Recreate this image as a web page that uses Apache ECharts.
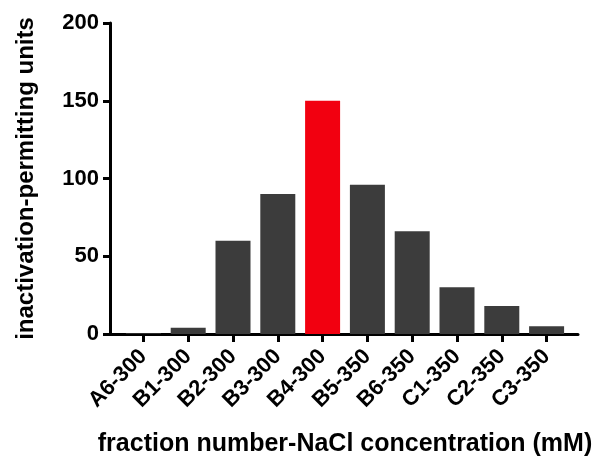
<!DOCTYPE html>
<html>
<head>
<meta charset="utf-8">
<script src="https://cdn.jsdelivr.net/npm/echarts@6/dist/echarts.min.js"></script>
<style>
  html, body { margin: 0; padding: 0; background: #fff; }
  #chart { width: 596px; height: 464px; }
</style>
</head>
<body>
<div id="chart"></div>
<script>
// fractions and their activity
var fractions = ['A6-300', 'B1-300', 'B2-300', 'B3-300', 'B4-300', 'B5-350', 'B6-350', 'C1-350', 'C2-350', 'C3-350'];
var units = [0.5, 4, 60, 90, 150, 96, 66, 30, 18, 5];
var highlight = 'B4-300';
var yTicks = [0, 50, 100, 150, 200];

var font = 'Liberation Sans, Arial, sans-serif';
var chart = echarts.init(document.getElementById('chart'));

var option = {
    animation: false,
    grid: [
        // frame grid: carries the axis lines and y ticks
        { left: 110, right: 18, top: 23, bottom: 130, outerBoundsMode: 'none' },
        // bar grid: slightly inset like the original
        { left: 121, right: 27, top: 23, bottom: 130, outerBoundsMode: 'none' }
    ],
    xAxis: [
        {
            gridIndex: 0,
            type: 'value',
            min: 0,
            max: 1,
            axisLine: { show: true, lineStyle: { color: '#000', width: 3 } },
            axisTick: { show: false },
            axisLabel: { show: false },
            splitLine: { show: false }
        },
        {
            gridIndex: 1,
            type: 'category',
            data: fractions,
            axisLine: { show: false },
            axisTick: { show: true, alignWithLabel: true, length: 8, lineStyle: { color: '#000', width: 3 } },
            axisLabel: {
                rotate: 45,
                interval: 0,
                margin: 19,
                color: '#000',
                fontFamily: font,
                fontWeight: 'bold',
                fontSize: 22
            },
            name: 'fraction number-NaCl concentration (mM)',
            nameLocation: 'middle',
            nameGap: 98,
            nameTextStyle: { color: '#000', fontFamily: font, fontWeight: 'bold', fontSize: 25 }
        }
    ],
    yAxis: [
        {
            gridIndex: 0,
            type: 'value',
            min: 0,
            max: 200,
            interval: 50,
            axisLine: { show: true, lineStyle: { color: '#000', width: 3 } },
            axisTick: { show: true, length: 7, lineStyle: { color: '#000', width: 3 } },
            axisLabel: {
                margin: 11,
                color: '#000',
                fontFamily: font,
                fontWeight: 'bold',
                fontSize: 22
            },
            splitLine: { show: false },
            name: 'inactivation-permitting units',
            nameLocation: 'middle',
            nameGap: 72,
            nameTextStyle: { color: '#000', fontFamily: font, fontWeight: 'bold', fontSize: 24 }
        },
        {
            gridIndex: 1,
            type: 'value',
            min: 0,
            max: 200,
            show: false
        }
    ],
    series: [
        {
            type: 'bar',
            xAxisIndex: 1,
            yAxisIndex: 1,
            barWidth: 35,
            data: units.map(function (v, i) {
                return {
                    value: v,
                    itemStyle: { color: fractions[i] === highlight ? '#f20010' : '#3c3c3c' }
                };
            })
        }
    ]
};
chart.setOption(option);
</script>
</body>
</html>
